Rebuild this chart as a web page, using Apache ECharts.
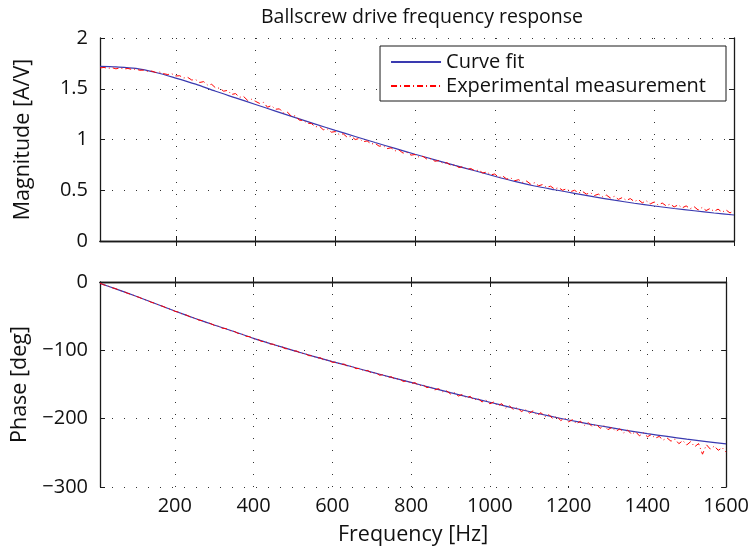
<!DOCTYPE html>
<html>
<head>
<meta charset="utf-8">
<script src="https://cdn.jsdelivr.net/npm/echarts@6/dist/echarts.min.js"></script>
<style>html,body{margin:0;padding:0;background:#fff}#c{width:752px;height:552px}</style>
</head>
<body>
<div id="c"></div>
<script>
// ---------- data ----------
const xTicks = [200, 400, 600, 800, 1000, 1200, 1400, 1600];
const magTicks = [0, 0.5, 1, 1.5, 2];
const phaseTicks = [-300, -200, -100, 0];

const fitFreq = [10, 50, 100, 150, 200, 250, 300, 350, 400, 450, 500, 550, 600, 650, 700, 750, 800, 850, 900, 950, 1000, 1050, 1100, 1150, 1200, 1250, 1300, 1350, 1400, 1450, 1500, 1550, 1600];
const fitMag = [1.72, 1.715, 1.70, 1.66, 1.605, 1.545, 1.475, 1.41, 1.345, 1.28, 1.215, 1.152, 1.09, 1.03, 0.97, 0.912, 0.855, 0.80, 0.745, 0.692, 0.638, 0.587, 0.542, 0.505, 0.47, 0.435, 0.402, 0.372, 0.345, 0.32, 0.298, 0.276, 0.256];
const fitPhase = [-2, -10, -20.5, -31.5, -42.5, -53, -63, -72.5, -82.5, -91.5, -100, -108.5, -116.5, -124, -132, -139.5, -147, -154.5, -162, -169, -176, -183, -189.5, -196, -202, -207.5, -212.5, -217.5, -222, -226, -230, -233.5, -237];

const measFreq = [10,20,30,40,50,60,70,80,90,100,110,120,130,140,150,160,170,180,190,200,210,220,230,240,250,260,270,280,290,300,310,320,330,340,350,360,370,380,390,400,410,420,430,440,450,460,470,480,490,500,510,520,530,540,550,560,570,580,590,600,610,620,630,640,650,660,670,680,690,700,710,720,730,740,750,760,770,780,790,800,810,820,830,840,850,860,870,880,890,900,910,920,930,940,950,960,970,980,990,1000,1010,1020,1030,1040,1050,1060,1070,1080,1090,1100,1110,1120,1130,1140,1150,1160,1170,1180,1190,1200,1210,1220,1230,1240,1250,1260,1270,1280,1290,1300,1310,1320,1330,1340,1350,1360,1370,1380,1390,1400,1410,1420,1430,1440,1450,1460,1470,1480,1490,1500,1510,1520,1530,1540,1550,1560,1570,1580,1590,1600];
const measMag = [1.705,1.710,1.700,1.708,1.696,1.706,1.694,1.700,1.690,1.694,1.682,1.684,1.670,1.674,1.660,1.664,1.648,1.640,1.648,1.626,1.628,1.606,1.612,1.586,1.590,1.562,1.570,1.536,1.544,1.508,1.506,1.476,1.484,1.444,1.452,1.416,1.424,1.386,1.396,1.376,1.356,1.366,1.318,1.334,1.298,1.302,1.262,1.270,1.228,1.234,1.190,1.188,1.160,1.158,1.124,1.132,1.096,1.104,1.072,1.078,1.048,1.056,1.022,1.032,1.000,1.010,0.978,0.986,0.956,0.962,0.934,0.940,0.910,0.918,0.888,0.896,0.866,0.874,0.846,0.852,0.826,0.834,0.806,0.812,0.786,0.792,0.764,0.772,0.744,0.750,0.724,0.732,0.706,0.714,0.692,0.698,0.670,0.680,0.652,0.660,0.626,0.640,0.610,0.622,0.594,0.604,0.578,0.590,0.560,0.574,0.544,0.556,0.528,0.540,0.512,0.526,0.500,0.514,0.486,0.500,0.474,0.488,0.462,0.476,0.448,0.462,0.436,0.452,0.424,0.440,0.410,0.428,0.400,0.418,0.388,0.408,0.376,0.396,0.366,0.384,0.354,0.374,0.346,0.364,0.336,0.356,0.326,0.346,0.318,0.338,0.306,0.330,0.300,0.320,0.292,0.314,0.284,0.306,0.276,0.300,0.270,0.292,0.266,0.286];
const measPhase = [-1.8,-4.2,-5.7,-8.3,-9.8,-12.4,-13.9,-16.6,-18.1,-20.8,-22.5,-25.3,-26.8,-29.7,-31.2,-34.1,-35.6,-38.5,-40.0,-42.9,-44.2,-47.2,-48.5,-51.4,-52.6,-55.6,-56.7,-59.5,-60.6,-63.4,-64.5,-67.5,-68.2,-71.2,-72.0,-75.1,-76.0,-79.3,-80.0,-83.2,-83.6,-87.0,-87.2,-90.6,-91.0,-94.1,-94.2,-97.5,-97.8,-100.8,-101.0,-104.5,-104.3,-107.8,-107.9,-111.2,-110.9,-114.5,-114.0,-117.6,-117.2,-120.8,-120.1,-123.9,-123.2,-126.8,-126.3,-130.1,-129.5,-133.4,-132.6,-136.5,-135.4,-139.6,-138.7,-142.4,-141.3,-145.6,-144.6,-148.5,-147.3,-151.8,-150.4,-154.6,-153.2,-157.9,-156.1,-160.7,-159.2,-163.8,-162.0,-166.9,-164.6,-169.7,-167.3,-172.8,-170.2,-175.6,-172.5,-178.3,-175.6,-181.4,-178.0,-184.5,-181.2,-187.0,-183.5,-189.8,-186.1,-192.0,-188.6,-195.3,-191.2,-197.4,-194.1,-200.2,-196.5,-202.8,-198.9,-204.6,-201.4,-207.5,-203.6,-209.8,-205.7,-211.9,-207.8,-214.1,-210.2,-216.0,-212.8,-218.7,-214.9,-221.0,-216.6,-222.9,-219.1,-225.2,-220.8,-226.5,-223.4,-228.6,-226.0,-231.4,-228.2,-233.0,-229.8,-236.6,-232.1,-238.5,-233.6,-241.2,-236.5,-252.0,-238.2,-244.6,-240.1,-246.3,-242.5,-249.0];

// ---------- chart ----------
const FONT = 'Open Sans';
const zip = (xs, ys) => xs.map((x, i) => [x, ys[i]]);
const minus = v => String(v).replace('-', '\u2212');

const axisLine = { show: true, lineStyle: { color: '#1a1a1a', width: 1.3 } };
const tickIn = vals => ({ show: true, inside: true, length: 5, customValues: vals, lineStyle: { color: '#1a1a1a', width: 1 } });
const dotted = { show: true, lineStyle: { color: '#333', width: 1, type: [1, 11] } };
const tickStyle = { color: '#111', fontFamily: FONT, fontSize: 20 };
const nameStyle = { color: '#111', fontFamily: FONT, fontSize: 21.5 };

function xAx(grid, pos, labels) {
  return {
    type: 'value', gridIndex: grid, position: pos, min: 10, max: 1600,
    axisLine: axisLine, axisTick: tickIn(xTicks),
    axisLabel: labels ? Object.assign({ show: true, margin: 9, customValues: xTicks, formatter: v => String(v) }, tickStyle) : { show: false },
    splitLine: pos === 'bottom' ? dotted : { show: false },
    name: labels ? 'Frequency [Hz]' : '', nameLocation: 'middle', nameGap: 37,
    nameTextStyle: nameStyle
  };
}
function yAx(grid, pos, min, max, interval, name, gap) {
  const main = pos === 'left';
  return {
    type: 'value', gridIndex: grid, position: pos, min: min, max: max, interval: interval,
    axisLine: axisLine, axisTick: { show: true, inside: true, length: 5, lineStyle: { color: '#1a1a1a', width: 1 } },
    axisLabel: main ? Object.assign({ show: true, margin: 12, formatter: minus }, tickStyle) : { show: false },
    splitLine: main ? dotted : { show: false },
    name: main ? name : '', nameLocation: 'middle', nameGap: gap, nameTextStyle: nameStyle
  };
}

const chart = echarts.init(document.getElementById('c'), null, { renderer: 'canvas' });
chart.setOption({
  animation: false,
  backgroundColor: '#fff',
  title: {
    text: 'Ballscrew drive frequency response', left: 417, top: 2, textAlign: 'center',
    textStyle: { color: '#111', fontFamily: FONT, fontSize: 19.5, fontWeight: 'normal' }
  },
  grid: [
    { left: 100, top: 38, width: 634, height: 203 },
    { left: 100, top: 282, width: 634, height: 205 }
  ],
  xAxis: [xAx(0, 'bottom', false), xAx(1, 'bottom', true), xAx(0, 'top', false), xAx(1, 'top', false)],
  yAxis: [
    yAx(0, 'left', 0, 2, 0.5, 'Magnitude [A/V]', 66),
    yAx(1, 'left', -300, 0, 100, 'Phase [deg]', 66),
    yAx(0, 'right', 0, 2, 0.5, '', 0),
    yAx(1, 'right', -300, 0, 100, '', 0)
  ],
  legend: {
    orient: 'vertical', right: 26, top: 46,
    padding: [6, 20, 5, 10], itemGap: 4, itemWidth: 50, itemHeight: 14,
    borderColor: '#1a1a1a', borderWidth: 1, borderRadius: 0, backgroundColor: '#fff',
    itemStyle: { opacity: 0 },
    textStyle: tickStyle,
    data: ['Curve fit', 'Experimental measurement']
  },
  series: [
    { name: 'Curve fit', type: 'line', xAxisIndex: 0, yAxisIndex: 0, data: zip(fitFreq, fitMag), smooth: 0.3, symbol: 'none', lineStyle: { color: '#3a3ab0', width: 1.2 }, itemStyle: { color: '#3a3ab0' } },
    { name: 'Experimental measurement', type: 'line', xAxisIndex: 0, yAxisIndex: 0, data: zip(measFreq, measMag), symbol: 'none', lineStyle: { color: '#ff0000', width: 1, type: [6, 3, 1, 3] }, itemStyle: { color: '#ff0000' } },
    { name: 'Curve fit', type: 'line', xAxisIndex: 1, yAxisIndex: 1, data: zip(fitFreq, fitPhase), smooth: 0.3, symbol: 'none', lineStyle: { color: '#3a3ab0', width: 1.2 }, itemStyle: { color: '#3a3ab0' } },
    { name: 'Experimental measurement', type: 'line', xAxisIndex: 1, yAxisIndex: 1, data: zip(measFreq, measPhase), symbol: 'none', lineStyle: { color: '#ff0000', width: 1, type: [6, 3, 1, 3] }, itemStyle: { color: '#ff0000' } }
  ]
});
</script>
</body>
</html>
